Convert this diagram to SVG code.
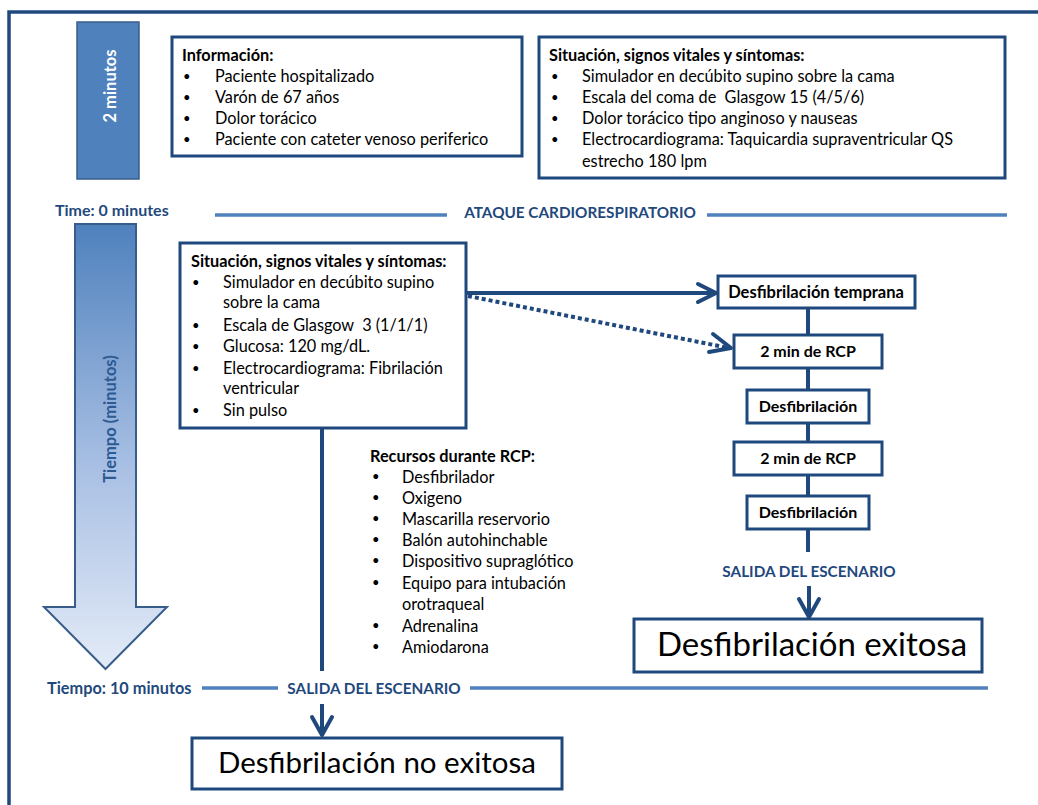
<svg xmlns="http://www.w3.org/2000/svg" width="1038" height="805" viewBox="0 0 1038 805">
<defs>
<style>
text{font-family:Lato,"Open Sans","Liberation Sans",sans-serif;fill:#000}
.b{font-size:16.3px}
.d{font-size:13px}
.h{font-size:16.3px;font-weight:bold}
.lbl{font-size:15.3px;font-weight:bold;fill:#1f497d}
.big{font-size:29.5px}
.box{fill:#fff;stroke:#1f497d;stroke-width:3}
.div{stroke:#4f81bd;stroke-width:3.5;fill:none}
.con{stroke:#1f497d;stroke-width:4;fill:none}
.chev{stroke:#1f497d;stroke-width:4;fill:none;stroke-linecap:round;stroke-linejoin:round}
.nodet{font-size:16px;font-weight:bold;text-anchor:middle}
</style>
<linearGradient id="ag" x1="0" y1="0" x2="0" y2="1">
<stop offset="0" stop-color="#4f81bd"/>
<stop offset="0.55" stop-color="#a9c0e4"/>
<stop offset="1" stop-color="#e3ebf7"/>
</linearGradient>
</defs>
<rect width="1038" height="805" fill="#fff"/>
<g id="frame">
<path d="M9,805 V12 H1038" fill="none" stroke="#1f497d" stroke-width="3.5"/>
</g>
<g id="two-minutes">
<rect x="77" y="22" width="62" height="157" fill="#4f81bd" stroke="#385d8a" stroke-width="1.5"/>
<text transform="translate(116,86) rotate(-90)" text-anchor="middle" style="font-size:16.5px;font-weight:bold;fill:#fff">2 minutos</text>
</g>
<g id="informacion">
<rect class="box" x="172" y="37" width="350" height="119"/>
<text class="h" x="182" y="61">Información:</text>
<text class="d" x="183" y="81">•</text><text class="b" x="215" y="82">Paciente hospitalizado</text>
<text class="d" x="183" y="102">•</text><text class="b" x="215" y="103">Varón de 67 años</text>
<text class="d" x="183" y="123">•</text><text class="b" x="215" y="124">Dolor torácico</text>
<text class="d" x="183" y="144">•</text><text class="b" x="215" y="145">Paciente con cateter venoso periferico</text>
</g>
<g id="situacion-inicial">
<rect class="box" x="539" y="37" width="466" height="141"/>
<text class="h" x="549" y="61">Situación, signos vitales y síntomas:</text>
<text class="d" x="551" y="81">•</text><text class="b" x="582" y="82">Simulador en decúbito supino sobre la cama</text>
<text class="d" x="551" y="102">•</text><text class="b" x="582" y="103" xml:space="preserve">Escala del coma de  Glasgow 15 (4/5/6)</text>
<text class="d" x="551" y="123">•</text><text class="b" x="582" y="124">Dolor torácico tipo anginoso y nauseas</text>
<text class="d" x="551" y="144">•</text><text class="b" x="582" y="145">Electrocardiograma: Taquicardia supraventricular QS</text>
<text class="b" x="582" y="167">estrecho 180 lpm</text>
</g>
<g id="time0">
<text class="lbl" x="55" y="216" style="font-size:16px">Time: 0 minutes</text>
<line class="div" x1="215" y1="215" x2="447" y2="215"/>
<text class="lbl" x="580" y="218" text-anchor="middle">ATAQUE CARDIORESPIRATORIO</text>
<line class="div" x1="707" y1="215" x2="1007" y2="215"/>
</g>
<g id="time-arrow">
<path d="M75,224 H136 V607 H167 L105.5,669 L44,607 H75 Z" fill="url(#ag)" stroke="#385d8a" stroke-width="2"/>
<text transform="translate(116,419) rotate(-90)" text-anchor="middle" style="font-size:16.5px;font-weight:bold;fill:#2c5a93">Tiempo (minutos)</text>
</g>
<g id="situacion-paro">
<rect class="box" x="180" y="243" width="286" height="185"/>
<text class="h" x="191" y="267">Situación, signos vitales y síntomas:</text>
<text class="d" x="192" y="287">•</text><text class="b" x="223" y="288">Simulador en decúbito supino</text>
<text class="b" x="223" y="308">sobre la cama</text>
<text class="d" x="192" y="330">•</text><text class="b" x="223" y="331" xml:space="preserve">Escala de Glasgow  3 (1/1/1)</text>
<text class="d" x="192" y="351">•</text><text class="b" x="223" y="352">Glucosa: 120 mg/dL.</text>
<text class="d" x="192" y="373">•</text><text class="b" x="223" y="374">Electrocardiograma: Fibrilación</text>
<text class="b" x="223" y="394">ventricular</text>
<text class="d" x="192" y="415">•</text><text class="b" x="223" y="416">Sin pulso</text>
</g>
<g id="recursos">
<text class="h" x="370" y="462">Recursos durante RCP:</text>
<text class="d" x="372" y="481">•</text><text class="b" x="402" y="483">Desfibrilador</text>
<text class="d" x="372" y="502">•</text><text class="b" x="402" y="504">Oxigeno</text>
<text class="d" x="372" y="523">•</text><text class="b" x="402" y="525">Mascarilla reservorio</text>
<text class="d" x="372" y="544">•</text><text class="b" x="402" y="546">Balón autohinchable</text>
<text class="d" x="372" y="565">•</text><text class="b" x="402" y="567">Dispositivo supraglótico</text>
<text class="d" x="372" y="587">•</text><text class="b" x="402" y="589">Equipo para intubación</text>
<text class="b" x="402" y="610">orotraqueal</text>
<text class="d" x="372" y="630">•</text><text class="b" x="402" y="632">Adrenalina</text>
<text class="d" x="372" y="651">•</text><text class="b" x="402" y="653">Amiodarona</text>
</g>
<g id="desf-temprana">
<rect class="box" x="718" y="276" width="197" height="32"/>
<text class="nodet" x="816" y="298" style="font-size:16.5px">Desfibrilación temprana</text>
</g>
<g id="rcp1">
<rect class="box" x="734" y="335" width="148" height="33"/>
<text class="nodet" x="808" y="357">2 min de RCP</text>
</g>
<g id="desf1">
<rect class="box" x="747" y="390" width="122" height="33"/>
<text class="nodet" x="808" y="412">Desfibrilación</text>
</g>
<g id="rcp2">
<rect class="box" x="734" y="442" width="148" height="33"/>
<text class="nodet" x="808" y="464">2 min de RCP</text>
</g>
<g id="desf2">
<rect class="box" x="747" y="496" width="122" height="33"/>
<text class="nodet" x="808" y="518">Desfibrilación</text>
</g>
<g id="salida-derecha">
<text class="lbl" x="809" y="577" text-anchor="middle">SALIDA DEL ESCENARIO</text>
</g>
<g id="exitosa">
<rect class="box" x="634" y="619" width="348" height="53"/>
<text class="big" x="657" y="656" style="font-size:33px">Desfibrilación exitosa</text>
</g>
<g id="time10">
<text class="lbl" x="47" y="694" style="font-size:16.3px">Tiempo: 10 minutos</text>
<line class="div" x1="202" y1="688" x2="278" y2="688"/>
<text class="lbl" x="374" y="694" text-anchor="middle">SALIDA DEL ESCENARIO</text>
<line class="div" x1="470" y1="688" x2="988" y2="688"/>
</g>
<g id="no-exitosa">
<rect class="box" x="192" y="738" width="370" height="51"/>
<text class="big" x="377" y="773" text-anchor="middle">Desfibrilación no exitosa</text>
</g>
<g id="connectors">
<line class="con" x1="466" y1="293" x2="716" y2="293"/>
<polyline class="chev" points="698,284 716,293 698,302"/>
<line class="con" x1="468" y1="296" x2="729" y2="348" stroke-dasharray="4,3"/>
<polyline class="chev" points="713,334 731,348 709,352"/>
<line class="con" x1="808" y1="308" x2="808" y2="335"/>
<line class="con" x1="808" y1="368" x2="808" y2="390"/>
<line class="con" x1="808" y1="423" x2="808" y2="442"/>
<line class="con" x1="808" y1="475" x2="808" y2="496"/>
<line class="con" x1="808" y1="529" x2="808" y2="552"/>
<line class="con" x1="809" y1="586" x2="809" y2="616"/>
<polyline class="chev" points="799,599 809,617 819,599"/>
<line class="con" x1="322" y1="428" x2="322" y2="671"/>
<line class="con" x1="322" y1="704" x2="322" y2="734"/>
<polyline class="chev" points="312,717 322,735 332,717"/>
</g>
</svg>
